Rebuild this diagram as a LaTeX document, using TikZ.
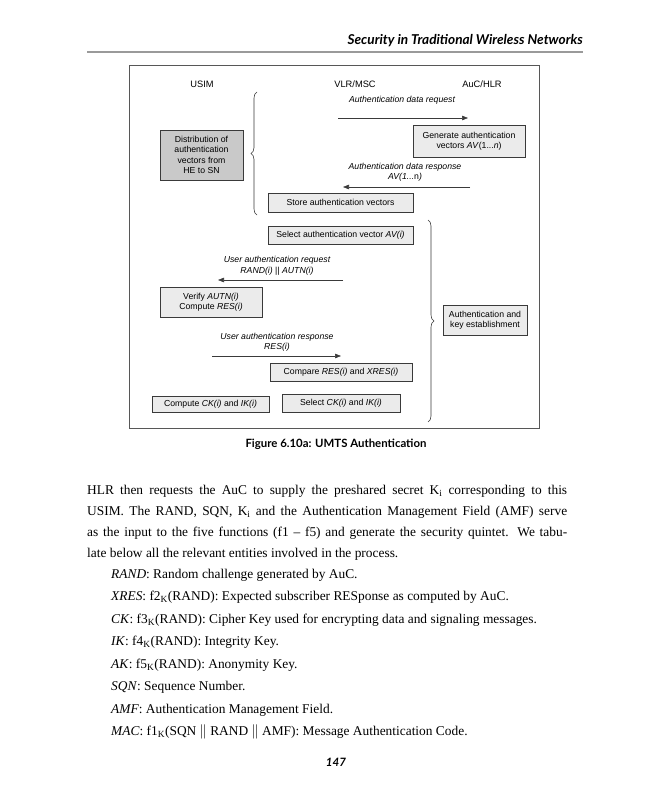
\documentclass[tikz,border=0pt]{standalone}
\usepackage{fontspec}
\setmainfont{Liberation Serif}
\newfontfamily\diagfont{Liberation Sans}
\newfontfamily\optfont{Lato}
\usetikzlibrary{arrows.meta,decorations.pathreplacing}
\definecolor{boxfill}{HTML}{EBEBEB}
\definecolor{darkfill}{HTML}{C9C9C9}
\definecolor{edgecol}{HTML}{3A3A3A}
\definecolor{rulecol}{HTML}{9A9A9A}
\begin{document}
\begin{tikzpicture}[x=1pt,y=-1pt,
  box/.style={draw=edgecol, fill=boxfill, line width=0.6pt, inner sep=0pt,
    font=\diagfont\fontsize{8.7}{10.5}\selectfont, align=center},
  hdr/.style={font=\diagfont\fontsize{9.3}{11}\selectfont, inner sep=0pt},
  lbl/.style={font=\diagfont\itshape\fontsize{8.7}{10.5}\selectfont, align=center, inner sep=0pt},
  msg/.style={-{Triangle[length=6pt,width=4.5pt]}, draw=edgecol, line width=0.6pt},
  brc/.style={draw=edgecol, line width=0.6pt, decorate, decoration={brace, amplitude=6pt}},
  body/.style={font=\fontsize{13.4}{21}\selectfont, inner sep=0pt, anchor=base west}]
\useasboundingbox (0,0) rectangle (647,800);
\fill[white] (0,0) rectangle (647,800);

% header
\node[anchor=base east, inner sep=0pt] (head) at (583,45)
  {\optfont\bfseries\itshape\fontsize{13.6}{15}\selectfont Security in Traditional Wireless Networks};
\draw[line width=1.5pt, rulecol] (87,52) -- (583,52);

% figure frame
\draw[line width=0.9pt, edgecol!85] (129,65) rectangle (539,428);

% column headers
\node[hdr] (usim) at (202,84) {USIM};
\node[hdr] (vlr) at (355,84) {VLR/MSC};
\node[hdr] (auc) at (482,84) {AuC/HLR};

% boxes
\node[box, minimum width=112pt, minimum height=32pt] (gen) at (469,141)
  {Generate authentication\\vectors \textit{AV}(1...\textit{n})};
\node[box, fill=darkfill, minimum width=83pt, minimum height=50pt] (dist) at (201.5,155)
  {Distribution of\\authentication\\vectors from\\HE to SN};
\node[box, minimum width=145pt, minimum height=19pt] (store) at (340.5,202.5)
  {Store authentication vectors};
\node[box, minimum width=145pt, minimum height=18pt] (selav) at (340.5,235)
  {Select authentication vector \textit{AV(i)}};
\node[box, minimum width=102pt, minimum height=30pt] (verify) at (211,302)
  {Verify \textit{AUTN(i)}\\Compute \textit{RES(i)}};
\node[box, minimum width=84pt, minimum height=30pt] (ake) at (485,320)
  {Authentication and\\key establishment};
\node[box, minimum width=142pt, minimum height=18pt] (cmp) at (341,372)
  {Compare \textit{RES(i)} and \textit{XRES(i)}};
\node[box, minimum width=117pt, minimum height=16pt] (comp) at (210.5,404)
  {Compute \textit{CK(i)} and \textit{IK(i)}};
\node[box, minimum width=118pt, minimum height=18pt] (selck) at (341,403)
  {Select \textit{CK(i)} and \textit{IK(i)}};

% messages
\node[lbl] (l1) at (402,100) {Authentication data request};
\coordinate (a1s) at (338,118); \coordinate (a1e) at (468,118);
\draw[msg] (a1s) -- (a1e);

\node[lbl] (l2) at (405,172) {Authentication data response\\\textit{AV(1...}\textup{n})};
\coordinate (a2s) at (470,187); \coordinate (a2e) at (343,187);
\draw[msg] (a2s) -- (a2e);

\node[lbl] (l3) at (277,266) {User authentication request\\RAND(i) \textup{||} AUTN(i)};
\coordinate (a3s) at (343,280); \coordinate (a3e) at (218,280);
\draw[msg] (a3s) -- (a3e);

\node[lbl] (l4) at (277,342) {User authentication response\\RES(i)};
\coordinate (a4s) at (212,356); \coordinate (a4e) at (341,356);
\draw[msg] (a4s) -- (a4e);

% braces
\coordinate (b1b) at (257,215); \coordinate (b1t) at (257,92);
\draw[brc] (b1b) -- (b1t);
\coordinate (b2t) at (428,220); \coordinate (b2b) at (428,422);
\draw[brc] (b2t) -- (b2b);

% caption
\node[inner sep=0pt] (cap) at (336,444)
  {\optfont\bfseries\fontsize{11.4}{13}\selectfont Figure 6.10a: UMTS Authentication};

% body paragraph
\node[body] (para) at (87,494) {\parbox[t]{480pt}{\fontsize{13.4}{21}\selectfont
HLR then requests the AuC to supply the preshared secret K\textsubscript{i} corresponding to this\linebreak
USIM. The RAND, SQN, K\textsubscript{i} and the Authentication Management Field (AMF) serve\linebreak
as the input to the five functions (f1 -- f5) and generate the security quintet. We tabu-\linebreak
late below all the relevant entities involved in the process.}};

% list
\node[body] (i1) at (111,578) {\textit{RAND}: Random challenge generated by AuC.};
\node[body] (i2) at (111,600.5) {\textit{XRES}: f2\textsubscript{K}(RAND): Expected subscriber RESponse as computed by AuC.};
\node[body] (i3) at (111,623) {\textit{CK}: f3\textsubscript{K}(RAND): Cipher Key used for encrypting data and signaling messages.};
\node[body] (i4) at (111,645.5) {\textit{IK}: f4\textsubscript{K}(RAND): Integrity Key.};
\node[body] (i5) at (111,668) {\textit{AK}: f5\textsubscript{K}(RAND): Anonymity Key.};
\node[body] (i6) at (111,690.5) {\textit{SQN}: Sequence Number.};
\node[body] (i7) at (111,713) {\textit{AMF}: Authentication Management Field.};
\node[body] (i8) at (111,735.5) {\textit{MAC}: f1\textsubscript{K}(SQN $\|$ RAND $\|$ AMF): Message Authentication Code.};

% page number
\node[inner sep=0pt] (pg) at (336,762)
  {\optfont\bfseries\itshape\fontsize{11.5}{13}\selectfont 147};
\end{tikzpicture}
\end{document}
